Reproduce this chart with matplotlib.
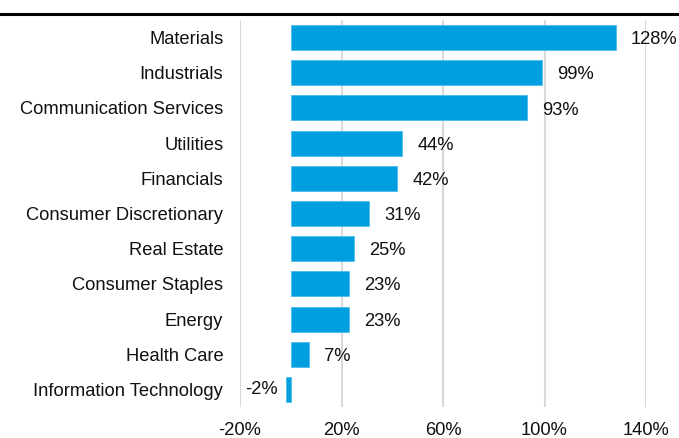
import matplotlib.pyplot as plt
from matplotlib.lines import Line2D

sectors = [
    "Materials", "Industrials", "Communication Services", "Utilities",
    "Financials", "Consumer Discretionary", "Real Estate", "Consumer Staples",
    "Energy", "Health Care", "Information Technology",
]
returns = [128, 99, 93, 44, 42, 31, 25, 23, 23, 7, -2]
xticks = [-20, 20, 60, 100, 140]

BLUE = "#009FDF"
GRID = "#D9D9D9"
FS = 13.2

plt.rcParams["font.family"] = ["Liberation Sans", "DejaVu Sans"]

fig = plt.figure(figsize=(6.79, 4.38), dpi=100)
ax = fig.add_axes([240 / 679, 31 / 438, 406 / 679, 387 / 438])

y = list(range(len(sectors)))
ax.barh(y, returns, height=0.71, color=BLUE, edgecolor="#4DBCEA", linewidth=0.6, zorder=3)

for yi, v in zip(y, returns):
    if v >= 0:
        ax.annotate(f"{v}%", (v, yi), xytext=(11, -1.5), textcoords="offset points",
                    ha="left", va="center", fontsize=FS, color="#111111")
    else:
        ax.annotate(f"{v}%", (v, yi), xytext=(-6, 0), textcoords="offset points",
                    ha="right", va="center", fontsize=FS, color="#111111")

ax.set_xlim(-20, 140)
ax.set_ylim(len(sectors) - 0.5, -0.5)
ax.set_yticks(y)
ax.set_yticklabels(sectors, fontsize=FS)
ax.set_xticks(xticks)
ax.set_xticklabels([f"{t}%" for t in xticks], fontsize=FS)
ax.tick_params(axis="both", length=0, colors="#111111")
ax.tick_params(axis="y", pad=12)
ax.tick_params(axis="x", pad=11)
for s in ax.spines.values():
    s.set_visible(False)
ax.xaxis.grid(True, color=GRID, linewidth=1.5, zorder=0)

fig.add_artist(Line2D([0, 1], [1 - 14 / 438, 1 - 14 / 438], color="black", linewidth=2.2,
                      transform=fig.transFigure))

fig.savefig("out.png", dpi=100)
